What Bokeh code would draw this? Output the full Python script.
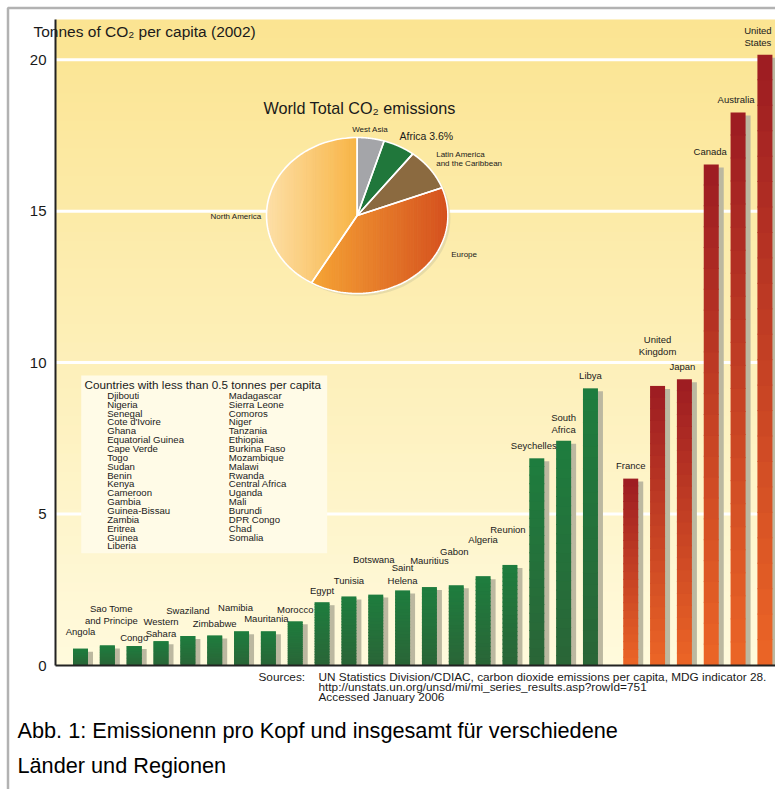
import numpy as np
from bokeh.plotting import figure
from bokeh.models import Label, PolyAnnotation, Range1d, FixedTicker
from bokeh.embed import file_html
from bokeh.resources import INLINE
from bokeh.core.properties import value

FONT = "Liberation Sans"
TXT = "#1a1a1a"

# ---------------- data ----------------
africa_names = ["Angola", "Sao Tome\nand Principe", "Congo", "Western\nSahara", "Swaziland",
                "Zimbabwe", "Namibia", "Mauritania", "Morocco", "Egypt", "Tunisia", "Botswana",
                "Saint\nHelena", "Mauritius", "Gabon", "Algeria", "Reunion", "Seychelles",
                "South\nAfrica", "Libya"]
africa_values = [0.55, 0.66, 0.64, 0.80, 0.97, 0.99, 1.13, 1.13, 1.46, 2.09, 2.28, 2.34,
                 2.48, 2.59, 2.65, 2.95, 3.32, 6.84, 7.42, 9.15]
other_names = ["France", "United\nKingdom", "Japan", "Canada", "Australia", "United\nStates"]
other_values = [6.17, 9.23, 9.45, 16.54, 18.26, 20.16]
y_ticks = [0, 5, 10, 15, 20]

pie_labels = ["West Asia", "Africa 3.6%", "Latin America\nand the Caribbean", "Europe", "North America"]
pie_shares = [4.8, 5.7, 8.7, 39.2, 41.6]

low_left = ["Djibouti", "Nigeria", "Senegal", "Cote d'Ivoire", "Ghana", "Equatorial Guinea",
            "Cape Verde", "Togo", "Sudan", "Benin", "Kenya", "Cameroon", "Gambia",
            "Guinea-Bissau", "Zambia", "Eritrea", "Guinea", "Liberia"]
low_right = ["Madagascar", "Sierra Leone", "Comoros", "Niger", "Tanzania", "Ethiopia",
             "Burkina Faso", "Mozambique", "Malawi", "Rwanda", "Central Africa", "Uganda",
             "Mali", "Burundi", "DPR Congo", "Chad", "Somalia"]

# label placement (layout: tonnes units / px offsets)
label_y = [1.12, 1.67, 0.93, 1.26, 1.82, 1.39, 1.92, 1.55, 1.85, 2.48, 2.81, 3.50, 3.02,
           3.47, 3.77, 4.16, 4.49, 7.27, 7.98, 9.58, 6.61, 10.57, 9.88, 16.98, 18.70, 20.78]
label_dx = [0, 4, 0, 0, 0, 0, -6, -2, 0, 0, 0, -2, 0, 0, -2, 0, -2, -3, 0, 0, 0, 0, -2, -1, -2, -7]

# ---------------- layout helpers ----------------
W, H = 775, 789
X0, SX = 80.0, 26.84
Y0, SY = 665.0, 30.29


def px_x(X):
    return (X - X0) / SX


def px_y(Y):
    return (Y0 - Y) / SY


def mix(c0, c1, t):
    c0 = np.array([int(c0[i:i + 2], 16) for i in (1, 3, 5)], float)
    c1 = np.array([int(c1[i:i + 2], 16) for i in (1, 3, 5)], float)
    c = c0 + (c1 - c0) * t
    return "#%02x%02x%02x" % tuple(int(round(v)) for v in c)


XL, XR = px_x(55), px_x(775)
YT = px_y(19)

p = figure(width=W, height=H, output_backend="svg", toolbar_location=None,
           x_range=Range1d(px_x(0), px_x(W)), y_range=Range1d(px_y(H), px_y(0)),
           min_border=0, min_border_left=0, min_border_right=0, min_border_top=0,
           min_border_bottom=0, border_fill_color="white", background_fill_color="white",
           outline_line_color=None)
p.grid.visible = False

# background gradient
nb = 70
edges = np.linspace(0, YT, nb + 1)
eps = 1.0 / SY
bg_cols = [mix("#fffadd", "#fbe491", (i + 0.5) / nb) for i in range(nb)]
p.quad(left=XL, right=XR, bottom=edges[:-1], top=[e + eps for e in edges[1:-1]] + [YT],
       fill_color=bg_cols, line_color=None)

# grid lines
gy = [t for t in y_ticks if t > 0]
p.segment(x0=[XL] * len(gy), y0=gy, x1=[XR] * len(gy), y1=gy, line_color="white", line_width=3)

# low-emitters box
p.quad(left=px_x(80.7), right=px_x(326.7), bottom=px_y(552.7), top=px_y(375),
       fill_color="#fffbe7", line_color=None)
p.text(x=[px_x(84)], y=[px_y(384)], text=["Countries with less than 0.5 tonnes per capita"],
       text_font=value(FONT), text_font_size="11.7px", text_color=TXT,
       text_align="left", text_baseline="middle")
p.text(x=[px_x(106.7)] * len(low_left), y=[px_y(394.8 + i * 8.86) for i in range(len(low_left))],
       text=low_left, text_font=value(FONT), text_font_size="9.6px", text_color=TXT,
       text_align="left", text_baseline="middle")
p.text(x=[px_x(228.3)] * len(low_right), y=[px_y(394.8 + i * 8.86) for i in range(len(low_right))],
       text=low_right, text_font=value(FONT), text_font_size="9.6px", text_color=TXT,
       text_align="left", text_baseline="middle")

# ---------------- pie ----------------
cx, cy = px_x(356.7), px_y(215)
rx, ry = 90.7 / SX, 78 / SY
slice_fill = ["#a4a5a9", "#20773b", "#8b6a40", None, None]
grad = {3: ("#f6a535", "#d5501e"), 4: ("#fde0a8", "#f8b445")}
cum = np.concatenate([[0], np.cumsum(pie_shares)]) / np.sum(pie_shares) * 2 * np.pi


def sector(a0, a1, n=80):
    th = np.linspace(a0, a1, n)
    xs = [cx] + list(cx + rx * np.sin(th))
    ys = [cy] + list(cy + ry * np.cos(th))
    return list(zip(xs, ys))


def clip(poly, xmin, xmax):
    def half(pts, inside, xv):
        out = []
        for i in range(len(pts)):
            cur, prev = pts[i], pts[i - 1]
            if inside(cur):
                if not inside(prev):
                    t = (xv - prev[0]) / (cur[0] - prev[0])
                    out.append((xv, prev[1] + t * (cur[1] - prev[1])))
                out.append(cur)
            elif inside(prev):
                t = (xv - prev[0]) / (cur[0] - prev[0])
                out.append((xv, prev[1] + t * (cur[1] - prev[1])))
        return out
    pts = half(poly, lambda q: q[0] >= xmin, xmin)
    if pts:
        pts = half(pts, lambda q: q[0] <= xmax, xmax)
    return pts


# soft shadow
sh = sector(0, 2 * np.pi, 120)
p.patch([q[0] + 2.5 / SX for q in sh], [q[1] - 2.5 / SY for q in sh],
        fill_color="#d9cfa0", fill_alpha=0.6, line_color=None)

outline_xs, outline_ys = [], []
for i in range(len(pie_shares)):
    poly = sector(cum[i], cum[i + 1])
    outline_xs.append([q[0] for q in poly])
    outline_ys.append([q[1] for q in poly])
    if i in grad:
        xmin = min(q[0] for q in poly)
        xmax = max(q[0] for q in poly)
        ns = 40
        se = np.linspace(xmin, xmax, ns + 1)
        sxs, sys, scs = [], [], []
        for k in range(ns):
            part = clip(poly, se[k], se[k + 1])
            if len(part) >= 3:
                sxs.append([q[0] for q in part])
                sys.append([q[1] for q in part])
                scs.append(mix(grad[i][0], grad[i][1], (k + 0.5) / ns))
        p.patches(sxs, sys, fill_color=scs, line_color=scs, line_width=0.8)
    else:
        p.patch(outline_xs[-1], outline_ys[-1], fill_color=slice_fill[i], line_color=None)
p.patches(outline_xs, outline_ys, fill_alpha=0, line_color="white", line_width=1.6)

p.add_layout(Label(x=px_x(359), y=px_y(107), text="World Total CO\u2082 emissions",
                   text_font=FONT, text_font_size="16.2px", text_color=TXT,
                   text_align="center", text_baseline="middle"))
pie_label_pos = [(351.7, 128.7, "8px"), (399, 135.8, "10.5px"), (435.7, 158.6, "8px"),
                 (450.7, 253.7, "8px"), (210, 216, "8px")]
for lab, (lx, ly, fs) in zip(pie_labels, pie_label_pos):
    p.add_layout(Label(x=px_x(lx), y=px_y(ly), text=lab, text_font=FONT, text_font_size=fs,
                       text_color=TXT, text_align="left", text_baseline="middle",
                       text_line_height=0.95))

# ---------------- bars ----------------
bar_x = list(range(len(africa_values))) + [len(africa_values) + 0.5 + i for i in range(len(other_values))]
bar_v = africa_values + other_values
names = africa_names + other_names
bw = 15 / SX
sdx, sdy = 5 / SX, 3 / SY

p.quad(left=[x - bw / 2 + sdx for x in bar_x], right=[x + bw / 2 + sdx for x in bar_x],
       bottom=0, top=[v - sdy for v in bar_v], fill_color="#bcb8a0", line_color=None)

nseg = 24
L, R, B, T, C = [], [], [], [], []
for j, (x, v) in enumerate(zip(bar_x, bar_v)):
    c_bot, c_top = ("#2a6537", "#1e7d3e") if j < len(africa_values) else ("#ec6626", "#9c1b22")
    for k in range(nseg):
        L.append(x - bw / 2)
        R.append(x + bw / 2)
        B.append(v * k / nseg)
        T.append(min(v * (k + 1) / nseg + eps, v))
        C.append(mix(c_bot, c_top, (k + 0.5) / nseg))
p.quad(left=L, right=R, bottom=B, top=T, fill_color=C, line_color=None)

p.text(x=bar_x, y=label_y, text=names, x_offset=label_dx, text_font=value(FONT),
       text_font_size="9.5px", text_color=TXT, text_align="center", text_baseline="middle",
       text_line_height=1.1)

# ---------------- axes (drawn at fixed data locations) ----------------
p.xaxis.fixed_location = 0
p.xaxis.bounds = (XL, XR)
p.xaxis.ticker = FixedTicker(ticks=[])
p.xaxis.axis_line_width = 2
p.xaxis.axis_line_color = "#222222"
p.xaxis.major_tick_line_color = None
p.xaxis.minor_tick_line_color = None

p.yaxis.fixed_location = XL
p.yaxis.bounds = (0, YT)
p.yaxis.ticker = FixedTicker(ticks=y_ticks)
p.yaxis.axis_line_width = 2
p.yaxis.axis_line_color = "#222222"
p.yaxis.major_tick_out = 0
p.yaxis.major_tick_in = 0
p.yaxis.minor_tick_line_color = None
p.yaxis.major_label_standoff = 9
p.yaxis.major_label_text_font = FONT
p.yaxis.major_label_text_font_size = "15px"
p.yaxis.major_label_text_color = TXT

p.add_layout(Label(x=px_x(33), y=px_y(31), text="Tonnes of CO\u2082 per capita (2002)",
                   text_font=FONT, text_font_size="15.5px", text_color=TXT,
                   text_align="left", text_baseline="middle"))

# ---------------- sources & caption ----------------
p.add_layout(Label(x=px_x(258), y=px_y(676), text="Sources:", text_font=FONT,
                   text_font_size="11.8px", text_color=TXT, text_baseline="middle"))
src_lines = ["UN Statistics Division/CDIAC, carbon dioxide emissions per capita, MDG indicator 28.",
             "http://unstats.un.org/unsd/mi/mi_series_results.asp?rowId=751",
             "Accessed January 2006"]
for i, s in enumerate(src_lines):
    p.add_layout(Label(x=px_x(318), y=px_y(676 + i * 10.4), text=s, text_font=FONT,
                       text_font_size="11.8px", text_color=TXT, text_baseline="middle"))

caption = ["Abb. 1: Emissionenn pro Kopf und insgesamt für verschiedene", "Länder und Regionen"]
for i, s in enumerate(caption):
    p.add_layout(Label(x=px_x(17), y=px_y(730 + i * 35), text=s, text_font=FONT,
                       text_font_size="21.7px", text_color="#000000", text_baseline="alphabetic"))

# frame border (left and top edges visible)
p.add_layout(PolyAnnotation(xs=[px_x(7.5), px_x(7.5), px_x(1200), px_x(1200)],
                            ys=[px_y(1200), px_y(7.5), px_y(7.5), px_y(1200)],
                            fill_alpha=0, line_color="black", line_width=2.5))

open("out.html", "w").write(file_html(p, INLINE))
